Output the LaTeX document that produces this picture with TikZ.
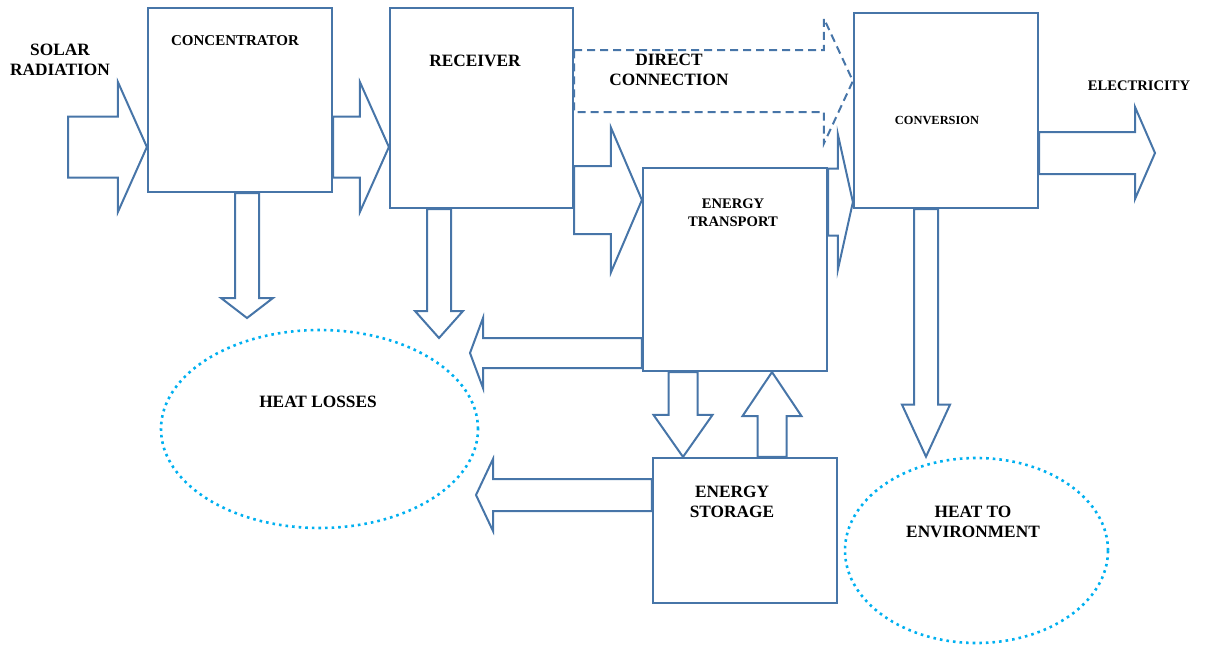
\documentclass[tikz,border=0pt]{standalone}
\usepackage{fontspec}
\setmainfont{Liberation Serif}
\usepackage{tikz}
\usetikzlibrary{positioning,calc,shapes.geometric}
\definecolor{flowblue}{HTML}{4775A8}
\definecolor{lossblue}{HTML}{00B0F0}

% hollow block arrow: [style]{start}{tip}{shaft half-width}{head half-width}{head length}
\newcommand\blockarrow[6][]{%
  \coordinate (bs) at (#2);
  \coordinate (bt) at (#3);
  \coordinate (bb) at ($(bt)!#6pt!(bs)$);
  \draw[flow,#1] ($(bs)!#4pt!90:(bt)$) -- ($(bb)!#4pt!90:(bt)$) -- ($(bb)!#5pt!90:(bt)$) -- (bt)
    -- ($(bb)!#5pt!-90:(bt)$) -- ($(bb)!#4pt!-90:(bt)$) -- ($(bs)!#4pt!-90:(bt)$) -- cycle;
}

\begin{document}
\begin{tikzpicture}[x=1pt, y=-1pt,
  box/.style={draw=flowblue, line width=2.2pt, inner sep=0pt},
  flow/.style={draw=flowblue, line width=2pt},
  ring/.style={ellipse, draw=lossblue, line width=2.6pt, dash pattern=on 2.6pt off 4pt, inner sep=0pt},
  lbl/.style={font=\fontsize{17.3}{20}\selectfont\bfseries, align=center, inner sep=0pt}]
\useasboundingbox (0,0) rectangle (1209,645);
% stages of the plant
\node[box, minimum width=184pt, minimum height=184pt] (conc) at (240,100) {};
\node[box, minimum width=183pt, minimum height=200pt] (recv) at (481.5,108) {};
\node[box, minimum width=184pt, minimum height=195pt] (conv) at (946,110.5) {};
\node[box, minimum width=184pt, minimum height=203pt] (trans) at (735,269.5) {};
\node[box, minimum width=184pt, minimum height=145pt] (stor) at (745,530.5) {};
\node[ring, minimum width=317pt, minimum height=198pt] (loss) at (319.5,429) {};
\node[ring, minimum width=263pt, minimum height=185pt] (env) at (976.5,550.5) {};
% labels
\node[lbl] (solarT) at (60,60) {SOLAR\\RADIATION};
\node[lbl, font=\fontsize{15}{18}\selectfont\bfseries] (concT) at (235,41) {CONCENTRATOR};
\node[lbl] (recvT) at (475,61) {RECEIVER};
\node[lbl] (directT) at (669,70) {DIRECT\\CONNECTION};
\node[lbl, font=\fontsize{14.6}{18}\selectfont\bfseries] (transT) at (733,213) {ENERGY\\TRANSPORT};
\node[lbl, font=\fontsize{12.4}{15}\selectfont\bfseries] (convT) at (937,120) {CONVERSION};
\node[lbl, font=\fontsize{14.6}{18}\selectfont\bfseries] (elecT) at (1139,86) {ELECTRICITY};
\node[lbl] (storT) at (732,502) {ENERGY\\STORAGE};
\node[lbl] (lossT) at (318,402) {HEAT LOSSES};
\node[lbl] (envT) at (973,522) {HEAT TO\\ENVIRONMENT};
% main energy path
\coordinate (sun) at (68,147);
\blockarrow{sun}{conc.west |- sun}{30.5}{65}{29}
\blockarrow{conc.east |- sun}{recv.west |- sun}{30.5}{65}{29}
\blockarrow{recv.east |- 0,200}{trans.west |- 0,200}{34}{72.5}{31}
\blockarrow{trans.east |- 0,202}{conv.west |- 0,202}{33.5}{67.5}{15}
\blockarrow[dash pattern=on 8pt off 5pt]{recv.east |- 0,81}{conv.west |- 0,81}{31}{62.5}{29}
\coordinate (grid) at (1155,153);
\blockarrow{conv.east |- grid}{grid}{21}{46}{20}
% storage loop
\blockarrow{trans.south -| 683,0}{stor.north -| 683,0}{14.5}{29.5}{42}
\blockarrow{stor.north -| 772,0}{trans.south -| 772,0}{14.5}{29.5}{44}
% losses
\coordinate (concdrop) at (247,318);
\blockarrow{conc.south -| concdrop}{concdrop}{12}{26}{20}
\coordinate (recvdrop) at (439,338);
\blockarrow{recv.south -| recvdrop}{recvdrop}{12}{24}{27}
\coordinate (transleak) at (470,353);
\blockarrow{trans.west |- transleak}{transleak}{15}{35}{13}
\coordinate (storleak) at (476,495);
\blockarrow{stor.west |- storleak}{storleak}{16}{36}{17}
\blockarrow{conv.south -| 926,0}{env.north -| 926,0}{12}{24}{52}
\end{tikzpicture}
\end{document}
